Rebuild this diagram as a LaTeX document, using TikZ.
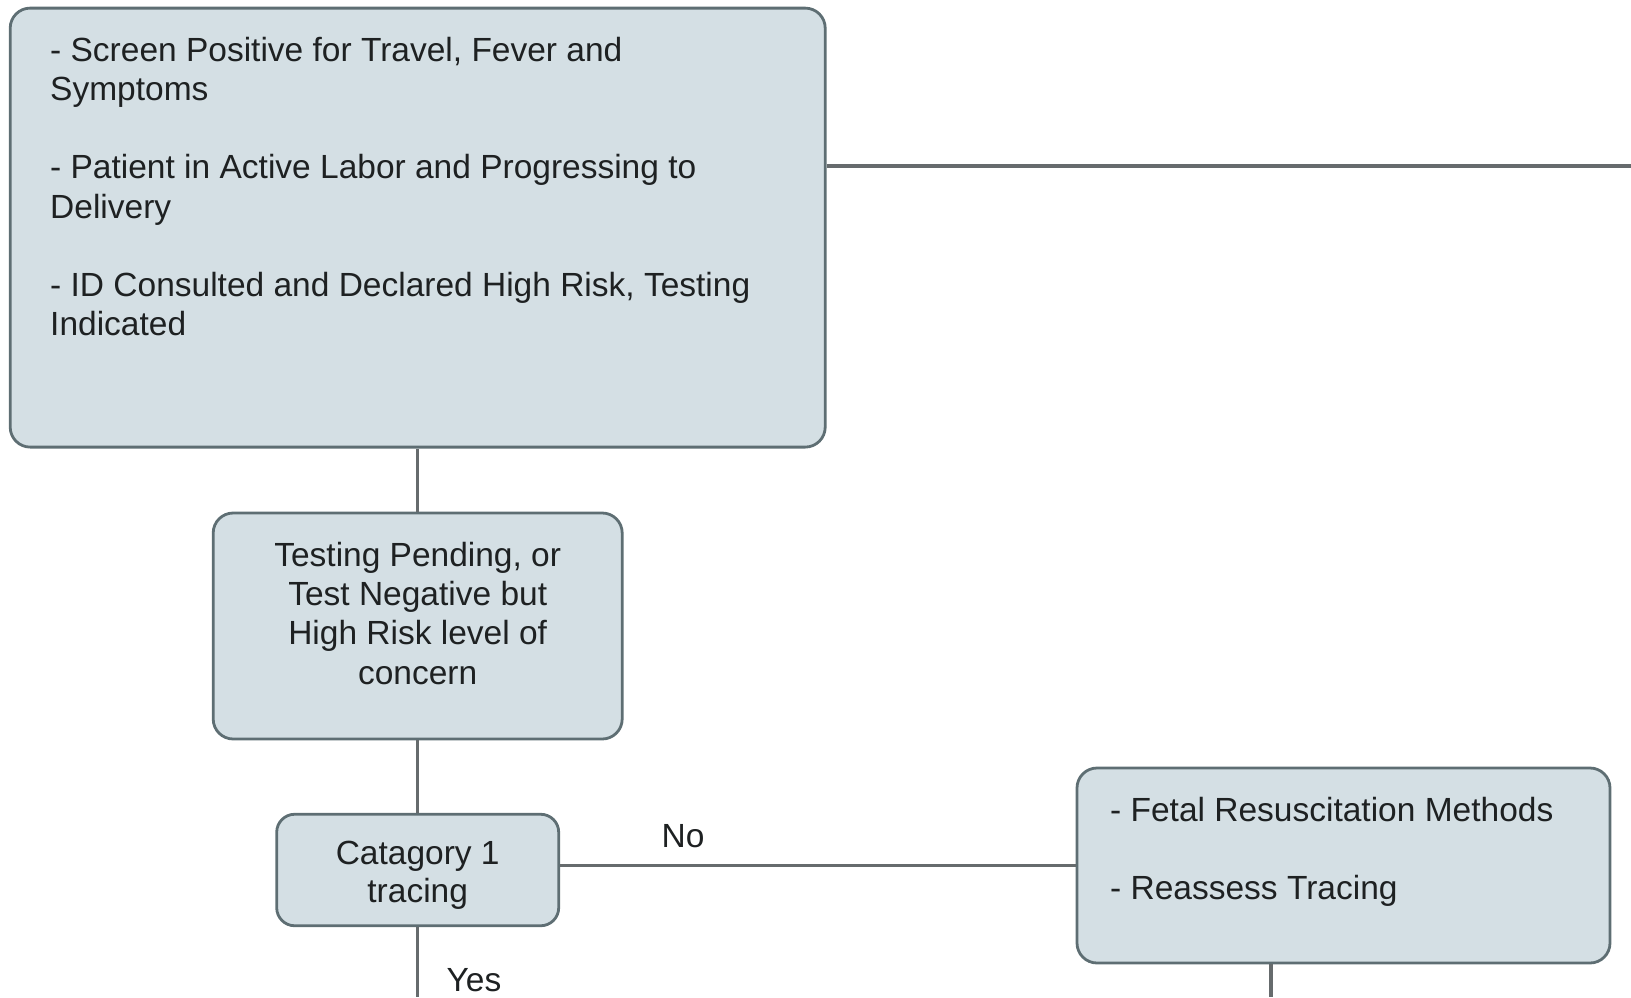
\documentclass[tikz,border=0pt]{standalone}
\usepackage{fontspec}
\setmainfont{Liberation Sans}
\definecolor{boxfill}{HTML}{D4DFE4}
\definecolor{boxedge}{HTML}{5E6E73}
\definecolor{linkgrey}{HTML}{666B6D}
\definecolor{textcol}{HTML}{1E2122}
\begin{document}
\begin{tikzpicture}[x=1pt,y=-1pt,
  box/.style={draw=boxedge, line width=2.8pt, fill=boxfill, rounded corners=20pt, inner sep=0pt},
  link/.style={draw=linkgrey, line width=3.5pt},
  txt/.style={inner sep=0pt, font=\fontsize{33.5}{39.5}\selectfont, text=textcol},
  lineL/.style={txt, anchor=base west},
  lineC/.style={txt, anchor=base},
]
\useasboundingbox (0,0) rectangle (1631,997);

% boxes
\node[box, minimum width=815pt, minimum height=439pt] (box1) at (417.7,227.6) {};
\node[box, minimum width=409pt, minimum height=226pt] (box2) at (417.7,626) {};
\node[box, minimum width=282pt, minimum height=111.5pt, rounded corners=18pt] (box3) at (417.7,870) {};
\node[box, minimum width=533pt, minimum height=195pt] (box4) at (1343.5,865.5) {};

% free ends of the connectors
\coordinate (r1) at (1631,166);
\coordinate (d3) at (417.7,997);
\coordinate (d4) at (1271,997);

% connectors
\draw[link] (r1 -| box1.east) -- (r1);
\draw[link] (box1.south) -- (box2.north);
\draw[link] (box2.south) -- (box3.north);
\draw[link] (box3.east |- box4.west) -- (box4.west);
\draw[link] (box3.south) -- (d3);
\draw[link] (d4 |- box4.south) -- (d4);

% texts of the first box
\node[lineL] (t1a) at (50,61) {- Screen Positive for Travel, Fever and};
\node[lineL] (t1b) at (50,100.5) {Symptoms};
\node[lineL] (t1c) at (50,178.5) {- Patient in Active Labor and Progressing to};
\node[lineL] (t1d) at (50,218) {Delivery};
\node[lineL] (t1e) at (50,296) {- ID Consulted and Declared High Risk, Testing};
\node[lineL] (t1f) at (50,335.5) {Indicated};

% texts of the second box
\node[lineC] (t2a) at (417.7,566) {Testing Pending, or};
\node[lineC] (t2b) at (417.7,605.3) {Test Negative but};
\node[lineC] (t2c) at (417.7,644.6) {High Risk level of};
\node[lineC] (t2d) at (417.7,684) {concern};

% texts of the third box
\node[lineC] (t3a) at (417.7,864) {Catagory 1};
\node[lineC] (t3b) at (417.7,902) {tracing};

% texts of the fourth box
\node[lineL] (t4a) at (1110,821) {- Fetal Resuscitation Methods};
\node[lineL] (t4b) at (1110,899) {- Reassess Tracing};

% connector labels
\node[lineC] (no) at (683,847) {No};
\node[lineC] (yes) at (474,991) {Yes};
\end{tikzpicture}
\end{document}
